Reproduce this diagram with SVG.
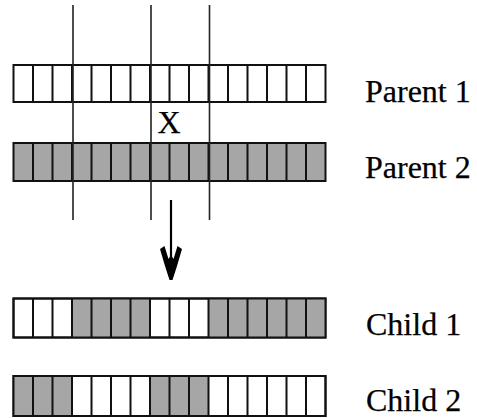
<svg xmlns="http://www.w3.org/2000/svg" width="477" height="418" viewBox="0 0 477 418">
  <defs>
    <style>
      .cell { stroke: #111; stroke-width: 2; }
      .w { fill: #fff; }
      .g { fill: #a6a6a6; }
      .cut { stroke: #222; stroke-width: 1.6; fill: none; }
      .lbl { font-family: "Liberation Serif", "Times New Roman", serif; font-size: 32px; fill: #000; stroke: #000; stroke-width: 0.25; }
    </style>
    <!-- one 16-gene chromosome row: 19.5px cells starting at x=13.5 -->
    <g id="dividers">
      <path class="cell" d="M33 0V1M52.5 0V1M72 0V1M91.5 0V1M111 0V1M130.5 0V1M150 0V1M169.5 0V1M189 0V1M208.5 0V1M228 0V1M247.5 0V1M267 0V1M286.5 0V1M306 0V1"/>
    </g>
  </defs>

  <rect width="477" height="418" fill="#fff"/>

  <!-- Parent 1: all white genes -->
  <g id="parent1">
    <rect class="cell w" x="13.5" y="65" width="312" height="37"/>
    <use href="#dividers" transform="translate(0 65) scale(1 37)"/>
    <text class="lbl" x="365" y="102">Parent 1</text>
  </g>

  <!-- Parent 2: all shaded genes -->
  <g id="parent2">
    <rect class="cell g" x="13.5" y="143" width="312" height="38"/>
    <use href="#dividers" transform="translate(0 143) scale(1 38)"/>
    <text class="lbl" x="365" y="178">Parent 2</text>
  </g>

  <!-- crossover points -->
  <g id="cuts">
    <path class="cut" d="M73 5V220M151 5V220M209.5 5V220"/>
    <text class="lbl" x="169" y="133" text-anchor="middle">X</text>
  </g>

  <!-- Child 1: P1 | P2 | P1 | P2 -->
  <g id="child1">
    <rect class="cell w" x="13.5" y="298.5" width="312" height="39"/>
    <rect class="g" x="72" y="298.5" width="78" height="39"/>
    <rect class="g" x="208.5" y="298.5" width="117" height="39"/>
    <rect class="cell" fill="none" x="13.5" y="298.5" width="312" height="39"/>
    <use href="#dividers" transform="translate(0 298.5) scale(1 39)"/>
    <text class="lbl" x="366" y="335">Child 1</text>
  </g>

  <!-- Child 2: P2 | P1 | P2 | P1 -->
  <g id="child2">
    <rect class="cell w" x="13.5" y="376" width="312" height="40"/>
    <rect class="g" x="13.5" y="376" width="58.5" height="40"/>
    <rect class="g" x="150" y="376" width="58.5" height="40"/>
    <rect class="cell" fill="none" x="13.5" y="376" width="312" height="40"/>
    <use href="#dividers" transform="translate(0 376) scale(1 40)"/>
    <text class="lbl" x="366" y="411">Child 2</text>
  </g>

  <!-- down arrow from parents to children -->
  <g id="connectors">
    <path d="M171 200V270" stroke="#000" stroke-width="2.2" fill="none"/>
    <path d="M160 249 L164.5 246 L168.5 259 L171 255 L173.5 259 L177.5 246 L182 249 L177 266 L172.5 280 L169.5 280 L165 266 Z" fill="#000"/>
  </g>
</svg>
